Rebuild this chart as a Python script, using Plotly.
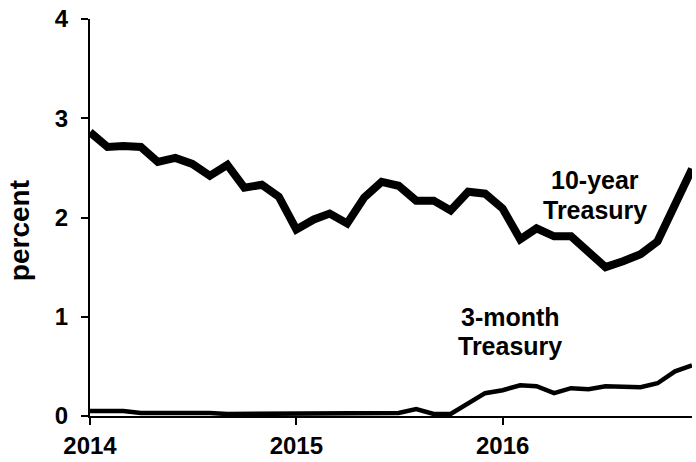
import plotly.graph_objects as go

months = [f"{y}-{m:02d}-01" for y in (2014, 2015, 2016) for m in range(1, 13)]

ten_year = [2.86, 2.71, 2.72, 2.71, 2.56, 2.60, 2.54, 2.42, 2.53, 2.30, 2.33, 2.21,
            1.88, 1.98, 2.04, 1.94, 2.20, 2.36, 2.32, 2.17, 2.17, 2.07, 2.26, 2.24,
            2.09, 1.78, 1.89, 1.81, 1.81, 1.64, 1.50, 1.56, 1.63, 1.76, 2.14, 2.49]

three_month = [0.05, 0.05, 0.05, 0.03, 0.03, 0.04, 0.03, 0.03, 0.02, 0.02, 0.02, 0.03,
               0.03, 0.02, 0.03, 0.02, 0.02, 0.02, 0.03, 0.07, 0.02, 0.02, 0.13, 0.23,
               0.26, 0.31, 0.30, 0.23, 0.28, 0.27, 0.30, 0.30, 0.29, 0.33, 0.45, 0.51]

tick_vals = ["2014-01-01", "2015-01-01", "2016-01-01"]
tick_text = ["2014", "2015", "2016"]
y_ticks = [0, 1, 2, 3, 4]

FONT = "Liberation Sans, Arial, Helvetica, sans-serif"

fig = go.Figure()
fig.add_trace(go.Scatter(x=months, y=three_month, mode="lines",
                         line=dict(color="black", width=4.5), showlegend=False))
fig.add_trace(go.Scatter(x=months, y=ten_year, mode="lines",
                         line=dict(color="black", width=8), showlegend=False))

ann_font = dict(family=FONT, size=25, color="black")
labels = [
    ("<b>10-year</b>", 0.839, 0.594),
    ("<b>Treasury</b>", 0.839, 0.519),
    ("<b>3-month</b>", 0.698, 0.250),
    ("<b>Treasury</b>", 0.698, 0.176),
]
for txt, x, y in labels:
    fig.add_annotation(text=txt, x=x, y=y, xref="paper", yref="paper",
                       showarrow=False, xanchor="center", yanchor="middle",
                       font=ann_font)

# y-axis title
fig.add_annotation(text="<b>percent</b>", x=-0.118, y=0.468, xref="paper", yref="paper",
                   showarrow=False, textangle=-90, xanchor="center", yanchor="middle",
                   font=dict(size=28, family=FONT, color="black"))

fig.update_layout(
    width=696, height=462,
    margin=dict(l=90, r=4, t=19, b=46),
    plot_bgcolor="white", paper_bgcolor="white",
    font=dict(family=FONT, color="black"),
)
fig.update_xaxes(
    range=["2014-01-01", "2016-12-01"],
    tickvals=tick_vals, ticktext=[f"<b>{t}</b>" for t in tick_text],
    tickfont=dict(size=24, family=FONT, color="black"),
    showgrid=False, zeroline=False,
    showline=True, linecolor="black", linewidth=2,
    ticks="outside", ticklen=7, tickwidth=1.5, tickcolor="black",
)
fig.update_yaxes(
    range=[0, 4],
    tickvals=y_ticks, ticktext=[f"<b>{v}</b>" for v in y_ticks],
    tickfont=dict(size=24, family=FONT, color="black"),
    ticklabelstandoff=8,
    showgrid=False, zeroline=False,
    showline=True, linecolor="black", linewidth=2,
    ticks="outside", ticklen=7, tickwidth=1.5, tickcolor="black",
)

fig.write_html("out.html", config={"displayModeBar": False},
               post_script="document.body.style.margin='0';document.body.style.padding='0';")
